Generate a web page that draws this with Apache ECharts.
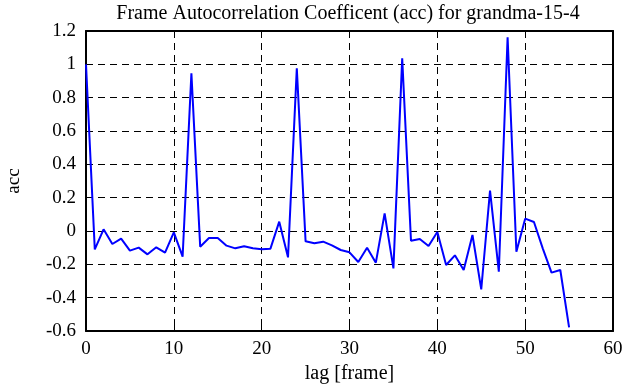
<!DOCTYPE html>
<html>
<head>
<meta charset="utf-8">
<script src="https://cdn.jsdelivr.net/npm/echarts@6/dist/echarts.min.js"></script>
<style>
  html, body { margin: 0; padding: 0; background: #fff; }
  #chart { width: 635px; height: 387px; }
</style>
</head>
<body>
<div id="chart"></div>
<script>
// lag values [frame]
const lags = [
  0, 1, 2, 3, 4, 5, 6, 7, 8, 9,
  10, 11, 12, 13, 14, 15, 16, 17, 18, 19,
  20, 21, 22, 23, 24, 25, 26, 27, 28, 29,
  30, 31, 32, 33, 34, 35, 36, 37, 38, 39,
  40, 41, 42, 43, 44, 45, 46, 47, 48, 49,
  50, 51, 52, 53, 54, 55
];
// autocorrelation coefficient
const acc = [
  1.0, -0.11, 0.01, -0.078, -0.046, -0.118, -0.10, -0.14, -0.098, -0.13,
  -0.008, -0.154, 0.946, -0.094, -0.042, -0.042, -0.088, -0.104, -0.092, -0.104,
  -0.11, -0.106, 0.056, -0.158, 0.976, -0.062, -0.074, -0.064, -0.086, -0.114,
  -0.128, -0.186, -0.10, -0.19, 0.106, -0.224, 1.036, -0.058, -0.048, -0.09,
  -0.006, -0.204, -0.146, -0.234, -0.024, -0.35, 0.242, -0.244, 1.162, -0.124,
  0.074, 0.054, -0.104, -0.25, -0.234, -0.578
];

const titleText = 'Frame Autocorrelation Coefficent (acc) for grandma-15-4';
const font = '"Liberation Serif", "DejaVu Serif", serif';

const seriesData = lags.map((l, i) => [l, acc[i]]);

const tickStyle = { show: true, inside: true, length: 5, lineStyle: { color: '#000', width: 1 } };
const gridDash = { show: true, lineStyle: { color: '#000', type: [7, 5], width: 1 } };
const frameLine = { show: true, onZero: false, lineStyle: { color: '#000', width: 2 } };

const option = {
  animation: false,
  backgroundColor: '#fff',
  title: {
    text: titleText,
    left: 343,
    textAlign: 'center',
    top: -1,
    textStyle: { fontFamily: font, fontSize: 20, fontWeight: 'normal', color: '#000' }
  },
  grid: { left: 86, right: 22, top: 31, bottom: 56, containLabel: false, outerBoundsMode: 'none' },
  xAxis: [
    {
      type: 'value',
      min: 0, max: 60, interval: 10,
      name: 'lag [frame]',
      nameLocation: 'middle',
      nameGap: 30,
      nameTextStyle: { fontFamily: font, fontSize: 20, color: '#000' },
      axisLine: frameLine,
      axisTick: tickStyle,
      axisLabel: { fontFamily: font, fontSize: 19, color: '#000', margin: 9 },
      splitLine: gridDash
    },
    {
      type: 'value', position: 'top',
      min: 0, max: 60, interval: 10,
      axisLine: frameLine,
      axisTick: tickStyle,
      axisLabel: { show: false },
      splitLine: { show: false }
    }
  ],
  yAxis: [
    {
      type: 'value',
      min: -0.6, max: 1.2, interval: 0.2,
      name: 'acc',
      nameLocation: 'middle',
      nameGap: 62,
      nameTextStyle: { fontFamily: font, fontSize: 19, color: '#000' },
      axisLine: frameLine,
      axisTick: tickStyle,
      axisLabel: {
        fontFamily: font, fontSize: 19, color: '#000', margin: 10,
        formatter: v => String(Math.round(v * 10) / 10)
      },
      splitLine: gridDash
    },
    {
      type: 'value', position: 'right',
      min: -0.6, max: 1.2, interval: 0.2,
      axisLine: frameLine,
      axisTick: tickStyle,
      axisLabel: { show: false },
      splitLine: { show: false }
    }
  ],
  series: [
    {
      name: 'acc',
      type: 'line',
      data: seriesData,
      showSymbol: false,
      symbol: 'none',
      lineStyle: { color: '#0000ff', width: 2 }
    }
  ]
};

const chart = echarts.init(document.getElementById('chart'));
chart.setOption(option);
</script>
</body>
</html>
